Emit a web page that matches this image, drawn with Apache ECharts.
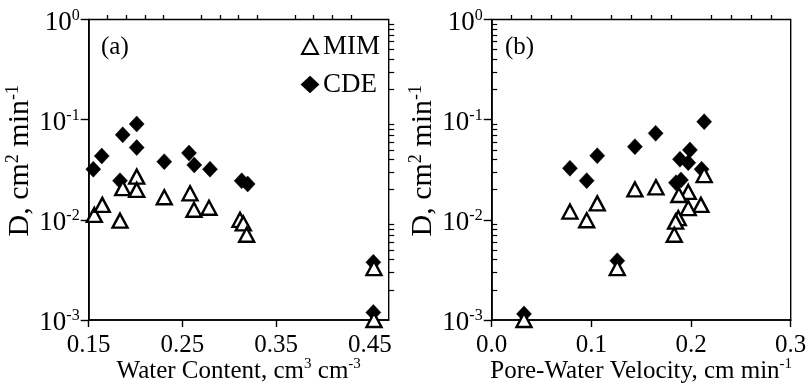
<!DOCTYPE html>
<html>
<head>
<meta charset="utf-8">
<script src="https://cdn.jsdelivr.net/npm/echarts@6/dist/echarts.min.js"></script>
<style>
  html, body { margin: 0; padding: 0; background: #fff; }
  #chart { width: 806px; height: 385px; }
</style>
</head>
<body>
<div id="chart"></div>
<script>
// Panel (a): dispersion coefficient vs. volumetric water content
const waterContentMIM = [0.156, 0.1645, 0.1834, 0.1863, 0.2012, 0.2012, 0.2306, 0.2581, 0.2623, 0.2783, 0.3114, 0.3149, 0.3185, 0.4543, 0.4543];
const dispersionMIM_a = [0.0112, 0.0141, 0.0098, 0.0207, 0.027, 0.0199, 0.0168, 0.0184, 0.0126, 0.0132, 0.0100, 0.0092, 0.0071, 0.0033, 0.0010];
const waterContentCDE = [0.1549, 0.1639, 0.1863, 0.2012, 0.2012, 0.1834, 0.2306, 0.2570, 0.2626, 0.2794, 0.3132, 0.3196, 0.4536, 0.4536];
const dispersionCDE_a = [0.032, 0.0434, 0.0706, 0.0906, 0.0526, 0.0246, 0.0381, 0.0465, 0.0353, 0.032, 0.0245, 0.0228, 0.00377, 0.00119];

// Panel (b): dispersion coefficient vs. pore-water velocity
const velocityMIM = [0.0324, 0.0785, 0.0953, 0.1059, 0.126, 0.1437, 0.1648, 0.2132, 0.1972, 0.1878, 0.2099, 0.1972, 0.1872, 0.1845, 0.1832];
const dispersionMIM_b = [0.0010, 0.0121, 0.0099, 0.0146, 0.0033, 0.0201, 0.0211, 0.028, 0.0190, 0.0177, 0.0141, 0.0131, 0.0104, 0.0096, 0.0071];
const velocityCDE = [0.0324, 0.0785, 0.0953, 0.1059, 0.126, 0.1437, 0.1645, 0.2132, 0.1989, 0.1889, 0.1972, 0.2106, 0.1849, 0.1899];
const dispersionCDE_b = [0.00115, 0.0327, 0.0246, 0.0437, 0.0039, 0.0538, 0.073, 0.0955, 0.0499, 0.0402, 0.0372, 0.032, 0.0235, 0.025];

// Tick positions and labels
const waterMajorTicks = [0.15, 0.25, 0.35, 0.45];
const waterMinorTicks = [0.17, 0.19, 0.21, 0.23, 0.27, 0.29, 0.31, 0.33, 0.37, 0.39, 0.41, 0.43];
const velocityMajorTicks = [0.0, 0.1, 0.2, 0.3];
const velocityMinorTicks = [0.02, 0.04, 0.06, 0.08, 0.12, 0.14, 0.16, 0.18, 0.22, 0.24, 0.26, 0.28];
const dispersionMajorTicks = [0.001, 0.01, 0.1, 1];
const dispersionMinorTicks = [0.002, 0.003, 0.004, 0.005, 0.006, 0.007, 0.008, 0.009,
  0.02, 0.03, 0.04, 0.05, 0.06, 0.07, 0.08, 0.09,
  0.2, 0.3, 0.4, 0.5, 0.6, 0.7, 0.8, 0.9];
const panelLabels = ['(a)', '(b)'];
const seriesNames = ['MIM', 'CDE'];

const FONT = '"Liberation Serif", "DejaVu Serif", serif';
const INK = '#000';
const richText = {
  b: { fontFamily: FONT, fontSize: 25, color: INK, lineHeight: 28 },
  s: { fontFamily: FONT, fontSize: 15, color: INK, lineHeight: 15, verticalAlign: 'top' }
};
const richPower = {
  b: { fontFamily: FONT, fontSize: 27, color: INK, lineHeight: 30 },
  s: { fontFamily: FONT, fontSize: 16, color: INK, lineHeight: 16, verticalAlign: 'top' }
};
const richYTitle = {
  b: { fontFamily: FONT, fontSize: 30, color: INK, lineHeight: 32 },
  s: { fontFamily: FONT, fontSize: 18, color: INK, lineHeight: 18, verticalAlign: 'top' }
};

const grids = [
  { left: 88.7, top: 19.5, width: 300, height: 300.5 },
  { left: 491.7, top: 19.5, width: 299, height: 300.5 }
];

function pairs(xs, ys) { return xs.map((x, i) => [x, ys[i]]); }

function xAxes(gridIndex, min, max, major, minor, decimals, title) {
  return [
    {
      type: 'value', gridIndex, min, max,
      axisLine: { show: true, onZero: false, lineStyle: { color: INK, width: 1.6 } },
      axisTick: { show: true, inside: false, length: 7, customValues: major, lineStyle: { color: INK, width: 1.4 } },
      axisLabel: {
        customValues: major, margin: 11, hideOverlap: false,
        formatter: v => '{b|' + v.toFixed(decimals) + '}', rich: richText
      },
      splitLine: { show: false },
      name: title, nameLocation: 'middle', nameGap: 37, nameMoveOverlap: false,
      nameTextStyle: { rich: richText }
    },
    {
      type: 'value', gridIndex, min, max,
      axisLine: { show: false },
      axisTick: { show: true, inside: false, length: 4.5, customValues: minor, lineStyle: { color: INK, width: 1.3 } },
      axisLabel: { show: false },
      splitLine: { show: false }
    }
  ];
}

function yAxes(gridIndex) {
  return [
    {
      type: 'log', logBase: 10, gridIndex, min: 0.001, max: 1,
      axisLine: { show: true, onZero: false, lineStyle: { color: INK, width: 1.6 } },
      axisTick: { show: true, inside: false, length: 8, customValues: dispersionMajorTicks, lineStyle: { color: INK, width: 1.4 } },
      axisLabel: {
        customValues: dispersionMajorTicks, margin: 9, padding: [6, 0, 0, 0], hideOverlap: false,
        formatter: v => '{b|10}{s|' + Math.round(Math.log10(v)) + '}', rich: richPower
      },
      splitLine: { show: false },
      name: '{b|D, cm}{s|2}{b| min}{s|-1}', nameLocation: 'middle', nameGap: 49, nameRotate: 90,
      nameTextStyle: { rich: richYTitle, padding: [0, 0, 0, 18] }
    },
    {
      type: 'log', logBase: 10, gridIndex, min: 0.001, max: 1,
      axisLine: { show: false },
      axisTick: { show: true, inside: false, length: 5.5, customValues: dispersionMinorTicks, lineStyle: { color: INK, width: 1.2 } },
      axisLabel: { show: false },
      splitLine: { show: false }
    }
  ];
}

const triangleStyle = { color: '#fff', borderColor: INK, borderWidth: 2.4, opacity: 1 };
const diamondStyle = { color: INK, borderColor: INK, borderWidth: 0.5, opacity: 1 };

function panelSeries(axisIndex, cde, mim) {
  return [
    {
      name: seriesNames[1], type: 'scatter', xAxisIndex: axisIndex, yAxisIndex: axisIndex,
      symbol: 'diamond', symbolSize: [15, 16], itemStyle: diamondStyle, data: cde, z: 3
    },
    {
      name: seriesNames[0], type: 'scatter', xAxisIndex: axisIndex, yAxisIndex: axisIndex,
      symbol: 'triangle', symbolSize: [15, 14], itemStyle: triangleStyle, data: mim, z: 4
    }
  ];
}

const chart = echarts.init(document.getElementById('chart'), null, { renderer: 'canvas' });
chart.setOption({
  backgroundColor: '#fff',
  animation: false,
  grid: grids.map(g => Object.assign({
    show: true, borderColor: INK, borderWidth: 1.4, backgroundColor: 'transparent',
    containLabel: false, outerBoundsMode: 'none'
  }, g)),
  xAxis: [
    ...xAxes(0, 0.15, 0.47, waterMajorTicks, waterMinorTicks, 2, '{b|Water Content, cm}{s|3}{b| cm}{s|-3}'),
    ...xAxes(1, 0, 0.3, velocityMajorTicks, velocityMinorTicks, 1, '{b|Pore-Water Velocity, cm min}{s|-1}')
  ],
  yAxis: [...yAxes(0), ...yAxes(1)],
  legend: {
    data: seriesNames,
    orient: 'vertical',
    left: 296, top: 28,
    itemWidth: 16, itemHeight: 15, itemGap: 11,
    textStyle: { fontFamily: FONT, fontSize: 27, color: INK, lineHeight: 27 },
    selectedMode: false
  },
  graphic: [
    { type: 'text', left: 101, top: 35, style: { text: panelLabels[0], font: '25px ' + FONT, fill: INK } },
    { type: 'text', left: 505, top: 35, style: { text: panelLabels[1], font: '25px ' + FONT, fill: INK } }
  ],
  series: [
    ...panelSeries(0, pairs(waterContentCDE, dispersionCDE_a), pairs(waterContentMIM, dispersionMIM_a)),
    // minor-tick axes (1, 3) carry no data; panel (b) uses axes 2
    ...panelSeries(2, pairs(velocityCDE, dispersionCDE_b), pairs(velocityMIM, dispersionMIM_b))
  ]
});
</script>
</body>
</html>
